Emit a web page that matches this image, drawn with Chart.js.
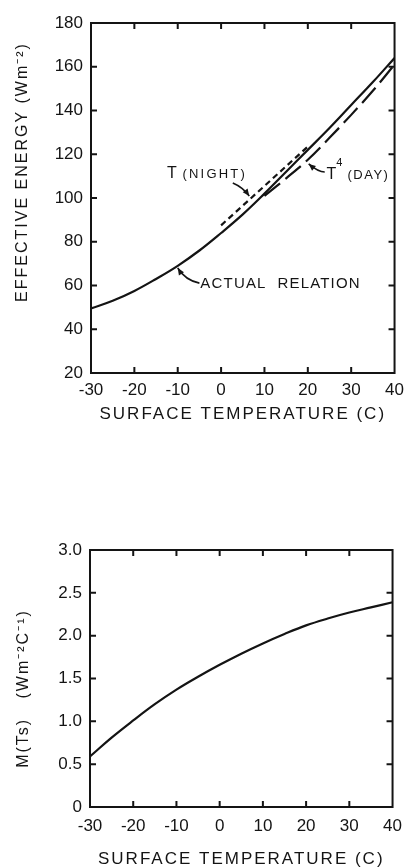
<!DOCTYPE html>
<html><head><meta charset="utf-8">
<script src="https://cdn.jsdelivr.net/npm/chart.js@4.4.1/dist/chart.umd.min.js"></script>
<style>
html,body{margin:0;padding:0;background:#fff;overflow:hidden;width:411px;height:867px}
#c1{position:absolute;left:0;top:0}
#c2{position:absolute;left:0;top:440px}
</style></head><body>
<canvas id="c1" width="411" height="440"></canvas>
<canvas id="c2" width="411" height="440"></canvas>
<script>
// ---------- data ----------
const temperatures = [-30,-25,-20,-15,-10,-5,0,5,10,15,20,25,30,35,40];
const actualEnergy = [49.5,53,57.5,63,69,76,84,92.5,102,112,122,132,142.5,153,164];
const nightTemps   = [0,10,20];
const nightEnergy  = [87.5,105.5,123.5];
const dayTemps     = [10,15,20,25,30,35,40];
const dayEnergy    = [101,109,117.5,127.5,138,149,161];
const mValues      = [0.59,0.81,1.01,1.2,1.37,1.52,1.66,1.79,1.91,2.02,2.12,2.2,2.27,2.33,2.39];

const xTitle      = 'SURFACE TEMPERATURE (C)';
const yTitleTop   = 'EFFECTIVE ENERGY (Wm\u207B\u00B2)';
const yTitleBot   = 'M(Ts)   (Wm\u207B\u00B2C\u207B\u00B9)';

// ---------- styling ----------
const INK = '#141414';
const FONT = '"Liberation Sans", Arial, Helvetica, sans-serif';
const LW = 2.2;

const pts = (xs, ys) => xs.map((v, i) => ({x: v, y: ys[i]}));

// frame with inward ticks on all four sides
const framePlugin = {
  id: 'frame',
  afterDatasetsDraw(chart, args, opts) {
    const {ctx, chartArea: a, scales: {x, y}} = chart;
    const L = opts.tickLen || 6;
    ctx.save();
    ctx.strokeStyle = INK; ctx.lineWidth = 2; ctx.lineCap = 'butt';
    ctx.strokeRect(a.left, a.top, a.right - a.left, a.bottom - a.top);
    ctx.beginPath();
    x.ticks.forEach(t => {
      const p = x.getPixelForValue(t.value);
      if (p <= a.left + 1 || p >= a.right - 1) return;
      ctx.moveTo(p, a.bottom); ctx.lineTo(p, a.bottom - L);
      ctx.moveTo(p, a.top); ctx.lineTo(p, a.top + L);
    });
    y.ticks.forEach(t => {
      const p = y.getPixelForValue(t.value);
      if (p <= a.top + 1 || p >= a.bottom - 1) return;
      ctx.moveTo(a.left, p); ctx.lineTo(a.left + L, p);
      ctx.moveTo(a.right, p); ctx.lineTo(a.right - L, p);
    });
    ctx.stroke();
    ctx.restore();
  }
};

// letter-spaced, shiftable axis titles (drawn by Chart.js itself)
const titlePlugin = {
  id: 'titleTweak',
  beforeDraw(chart, args, opts) {
    Object.values(chart.scales).forEach(s => {
      if (s._tweaked) return;
      const orig = s.drawTitle.bind(s);
      s.drawTitle = function () {
        const ctx = this.ctx;
        ctx.save();
        ctx.letterSpacing = (opts.spacing || 2) + 'px';
        const sh = (opts.shift && opts.shift[this.id]) || [0, 0];
        ctx.translate(sh[0], sh[1]);
        orig();
        ctx.restore();
      };
      s._tweaked = true;
    });
  }
};

// text annotations with leader arrows, positioned in data units
const notes = [
  {at: [-12.5, 109.1], parts: [{text: 'T', size: 16, spacing: 0}, {text: ' (NIGHT)', size: 13, spacing: 2.2}],
   leader: [[2.7, 106.9], [5.0, 105.0], [6.5, 100.9]]},
  {at: [24.3, 108.7], parts: [{text: 'T', size: 16, spacing: 0}, {text: '4', size: 11, spacing: 0, raise: 13}, {text: ' (DAY)', size: 13, spacing: 1.5}],
   leader: [[23.9, 111.9], [22.4, 111.9], [20.2, 115.6]]},
  {at: [-4.8, 58.9], parts: [{text: 'ACTUAL  RELATION', size: 15, spacing: 1.2}],
   leader: [[-5.0, 61.1], [-8.2, 62.3], [-10.0, 68.0]]}
];

const notePlugin = {
  id: 'notes',
  afterDatasetsDraw(chart, args, opts) {
    const list = opts.items || [];
    const {ctx, scales: {x, y}} = chart;
    const px = p => ({x: x.getPixelForValue(p[0]), y: y.getPixelForValue(p[1])});
    ctx.save();
    ctx.fillStyle = INK; ctx.strokeStyle = INK;
    ctx.textBaseline = 'alphabetic'; ctx.textAlign = 'left';
    list.forEach(n => {
      const o = px(n.at);
      let cx = o.x;
      n.parts.forEach(p => {
        ctx.font = p.size + 'px ' + FONT;
        ctx.letterSpacing = p.spacing + 'px';
        ctx.fillText(p.text, cx, o.y - (p.raise || 0));
        cx += ctx.measureText(p.text).width;
      });
      if (n.leader) {
        const [s, c, t] = n.leader.map(px);
        ctx.lineWidth = 1.6;
        ctx.beginPath(); ctx.moveTo(s.x, s.y); ctx.quadraticCurveTo(c.x, c.y, t.x, t.y); ctx.stroke();
        const ang = Math.atan2(t.y - c.y, t.x - c.x);
        const len = 7, w = 3;
        ctx.beginPath();
        ctx.moveTo(t.x, t.y);
        ctx.lineTo(t.x - len * Math.cos(ang) + w * Math.sin(ang), t.y - len * Math.sin(ang) - w * Math.cos(ang));
        ctx.lineTo(t.x - len * Math.cos(ang) - w * Math.sin(ang), t.y - len * Math.sin(ang) + w * Math.cos(ang));
        ctx.closePath(); ctx.fill();
      }
    });
    ctx.restore();
  }
};

function baseOptions(cfg) {
  return {
    responsive: false,
    devicePixelRatio: 1,
    animation: false,
    events: [],
    layout: {padding: {top: cfg.padTop, right: cfg.padRight, left: 0, bottom: 0}},
    elements: {point: {radius: 0}, line: {borderWidth: LW, borderColor: INK, tension: 0.4}},
    plugins: {
      legend: {display: false}, tooltip: {enabled: false},
      frame: {tickLen: 6},
      titleTweak: {spacing: 2, shift: cfg.shift},
      notes: {items: cfg.notes || []}
    },
    scales: {
      x: {
        type: 'linear', min: -30, max: 40,
        ticks: {stepSize: 10, color: INK, padding: cfg.xTickPad, font: {family: FONT, size: 17}, maxRotation: 0},
        grid: {display: false, drawTicks: false}, border: {display: false},
        title: {display: true, text: xTitle, color: INK, font: {family: FONT, size: 17}, padding: {top: 0, bottom: cfg.xTitlePad}},
        afterFit: s => { s.height = cfg.xHeight; }
      },
      y: {
        type: 'linear', min: cfg.yMin, max: cfg.yMax,
        ticks: {stepSize: cfg.yStep, color: INK, padding: 8, font: {family: FONT, size: 17}, callback: cfg.yFmt},
        grid: {display: false, drawTicks: false}, border: {display: false},
        title: {display: true, text: cfg.yTitle, color: INK, font: {family: FONT, size: 16}, padding: {top: cfg.yTitlePad, bottom: 0}},
        afterFit: s => { s.width = cfg.yWidth; }
      }
    }
  };
}

new Chart(document.getElementById('c1'), {
  type: 'line',
  data: {datasets: [
    {label: 'Actual relation', data: pts(temperatures, actualEnergy), borderColor: INK, borderWidth: LW},
    {label: 'T (night)', data: pts(nightTemps, nightEnergy), borderColor: INK, borderWidth: LW, borderDash: [6, 4], tension: 0},
    {label: 'T^4 (day)', data: pts(dayTemps, dayEnergy), borderColor: INK, borderWidth: LW, borderDash: [20, 7]}
  ]},
  options: baseOptions({
    padTop: 23, padRight: 13, xHeight: 67, yWidth: 91, xTickPad: 7, xTitlePad: 15,
    yMin: 20, yMax: 180, yStep: 20, yFmt: v => String(v), yTitle: yTitleTop, yTitlePad: 13,
    shift: {y: [0, -26]}, notes: notes
  }),
  plugins: [framePlugin, titlePlugin, notePlugin]
});

new Chart(document.getElementById('c2'), {
  type: 'line',
  data: {datasets: [
    {label: 'M(Ts)', data: pts(temperatures, mValues), borderColor: INK, borderWidth: LW}
  ]},
  options: baseOptions({
    padTop: 110, padRight: 16, xHeight: 73, yWidth: 90, xTickPad: 9, xTitlePad: 10,
    yMin: 0, yMax: 3, yStep: 0.5, yFmt: v => (v === 0 ? '0' : v.toFixed(1)), yTitle: yTitleBot, yTitlePad: 14,
    shift: {y: [0, 10]}
  }),
  plugins: [framePlugin, titlePlugin, notePlugin]
});
</script>
</body></html>
